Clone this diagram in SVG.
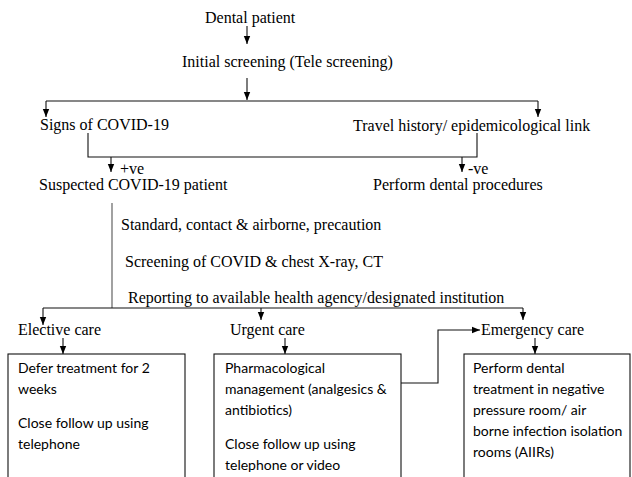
<svg xmlns="http://www.w3.org/2000/svg" width="632" height="477" viewBox="0 0 632 477">
<defs>
<marker id="ah" markerUnits="userSpaceOnUse" markerWidth="8" markerHeight="8" viewBox="0 0 8 8" refX="8" refY="4" orient="auto">
<path d="M0,0.8 L8,4 L0,7.2 Z" fill="#000"/>
</marker>
<style>
.ln{fill:none;stroke:#111;stroke-width:1.1}
.ar{fill:none;stroke:#111;stroke-width:1.1;marker-end:url(#ah)}
.bx{fill:#fff;stroke:#111;stroke-width:1.1}
</style>
</defs>
<rect width="632" height="477" fill="#fff"/>
<g id="connectors">
<path class="ar" d="M247,26 V44"/>
<path class="ar" d="M247,78 V100"/>
<path class="ln" d="M46,101 H538"/>
<path class="ar" d="M46,101 V117"/>
<path class="ar" d="M538,101 V117"/>
<path class="ln" d="M88,133 V157 H477 V133"/>
<path class="ar" d="M111,157 V172"/>
<path class="ar" d="M462,157 V172"/>
<path class="ln" d="M112,203 V308" style="stroke:#555"/>
<path class="ln" d="M43,308 H523"/>
<path class="ar" d="M43,308 V325"/>
<path class="ar" d="M261,308 V320"/>
<path class="ar" d="M523,308 V320"/>
<path class="ar" d="M63,338 V354"/>
<path class="ar" d="M285,338 V354"/>
<path class="ar" d="M535,338 V354"/>
<path class="ar" d="M401,383 H438 V330 H480"/>
</g>
<g font-family="'Liberation Serif', 'Times New Roman', serif" font-size="16" fill="#000">
<g id="n-dental"><text x="205" y="23">Dental patient</text></g>
<g id="n-initial"><text x="182" y="67">Initial screening (Tele screening)</text></g>
<g id="n-signs"><text x="40" y="130">Signs of COVID-19</text></g>
<g id="n-travel"><text x="353" y="131">Travel history/ epidemicological link</text></g>
<g id="l-pos"><text x="120" y="174">+ve</text></g>
<g id="l-neg"><text x="468" y="174">-ve</text></g>
<g id="n-suspected"><text x="39" y="190">Suspected COVID-19 patient</text></g>
<g id="n-perform"><text x="373" y="190">Perform dental procedures</text></g>
<g id="n-steps">
<text x="121" y="230">Standard, contact &amp; airborne, precaution</text>
<text x="125" y="267">Screening of COVID &amp; chest X-ray, CT</text>
<text x="128" y="303">Reporting to available health agency/designated institution</text>
</g>
<g id="n-elective"><text x="18" y="335">Elective care</text></g>
<g id="n-urgent"><text x="230" y="335">Urgent care</text></g>
<g id="n-emergency"><text x="481" y="335">Emergency care</text></g>
</g>
<g font-family="Lato, 'Liberation Sans', sans-serif" font-size="14" fill="#000">
<g id="box-elective">
<rect class="bx" x="8" y="354" width="177" height="140"/>
<text x="18" y="373">Defer treatment for 2</text>
<text x="18" y="394">weeks</text>
<text x="18" y="428">Close follow up using</text>
<text x="18" y="449">telephone</text>
</g>
<g id="box-urgent">
<rect class="bx" x="214" y="354" width="187" height="140"/>
<text x="225" y="373">Pharmacological</text>
<text x="225" y="394">management (analgesics &amp;</text>
<text x="225" y="415">antibiotics)</text>
<text x="225" y="449">Close follow up using</text>
<text x="225" y="470">telephone or video</text>
</g>
<g id="box-emergency">
<rect class="bx" x="464" y="354" width="166" height="140"/>
<text x="473" y="373">Perform dental</text>
<text x="473" y="394">treatment in negative</text>
<text x="473" y="415">pressure room/ air</text>
<text x="473" y="436">borne infection isolation</text>
<text x="473" y="457">rooms (AIIRs)</text>
</g>
</g>
</svg>
